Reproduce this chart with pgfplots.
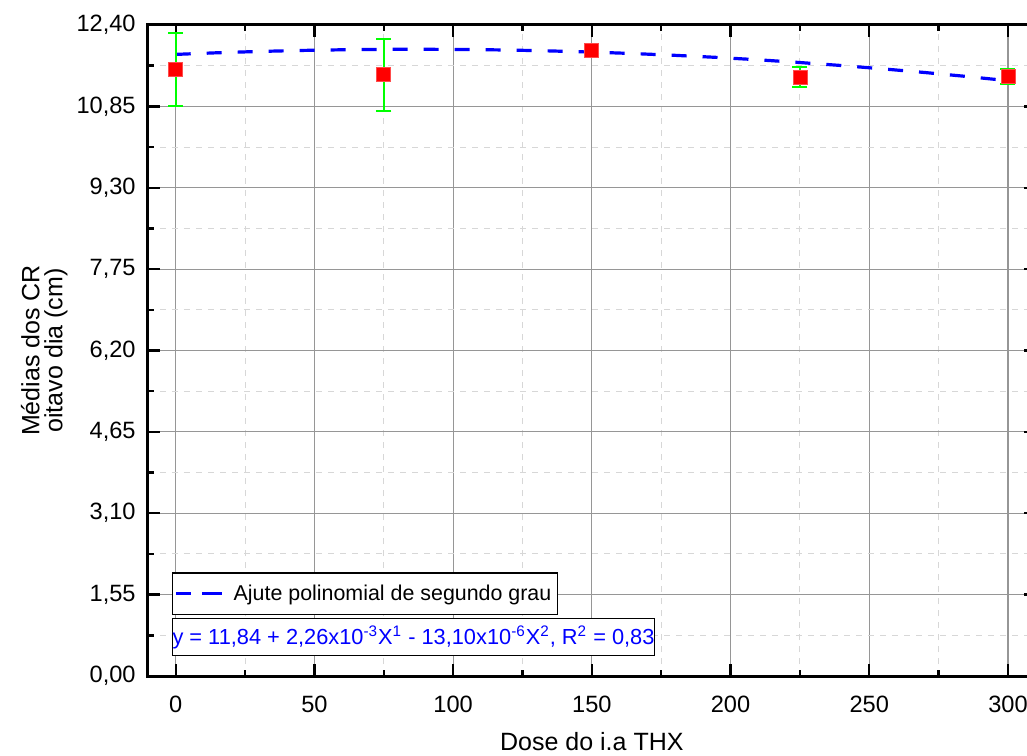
\documentclass[border=0pt]{standalone}
\usepackage{fontspec}
\setmainfont{Liberation Sans}
\usepackage{pgfplots}
\pgfplotsset{compat=1.18}
\usepackage{pgfplotstable}

\definecolor{ptred}{RGB}{255,0,0}
\definecolor{barGreen}{RGB}{0,255,0}
\definecolor{fitBlue}{RGB}{0,0,255}
\definecolor{gridMajor}{RGB}{150,150,150}
\definecolor{gridMinor}{RGB}{215,215,215}

% dose, mean, standard error
\pgfplotstableread{
x y err
0 11.55 0.70
75 11.45 0.68
150 11.92 0.05
225 11.41 0.19
300 11.42 0.14
}\meansdata

% second-degree fit: y = 11.84 + 2.26e-3 x - 13.10e-6 x^2
\pgfplotstableread{
x y
0 11.840
15 11.871
30 11.896
45 11.915
60 11.928
75 11.936
90 11.937
105 11.933
120 11.923
135 11.906
150 11.884
165 11.856
180 11.822
195 11.783
210 11.737
225 11.685
240 11.628
255 11.564
270 11.495
285 11.420
300 11.339
}\fitdata

\begin{document}
\begin{tikzpicture}
\begin{axis}[
  name=ax,
  scale only axis,
  width=443.85pt, height=325.5pt,
  xmin=-10, xmax=310,
  ymin=0, ymax=12.40,
  xtick={0,50,100,150,200,250,300},
  minor x tick num=1,
  ytick={0,1.55,3.10,4.65,6.20,7.75,9.30,10.85,12.40},
  minor y tick num=1,
  tick align=inside,
  major tick length=6pt,
  minor tick length=3pt,
  every tick/.style={black, line width=1.2pt},
  axis line style={black, line width=1.5pt},
  grid=both,
  major grid style={gridMajor, line width=0.6pt},
  minor grid style={gridMinor, dashed, line width=0.5pt},
  /pgf/number format/assume math mode=true,
  yticklabel style={/pgf/number format/.cd, fixed, fixed zerofill, precision=2, use comma},
  xticklabel style={/pgf/number format/.cd, fixed, precision=0},
  tick label style={font=\fontsize{11.8}{13}\selectfont, inner sep=0pt},
  xticklabel shift=10pt,
  yticklabel shift=6pt,
  xlabel={Dose do i.a THX},
  xlabel style={font=\fontsize{12.5}{14}\selectfont, inner sep=0pt, at={(axis description cs:0.5,-0.1)}, anchor=center},
  ylabel={Médias dos CR\\oitavo dia (cm)},
  ylabel style={font=\fontsize{12.5}{11.5}\selectfont, align=center, inner sep=0pt, at={(axis description cs:-0.117,0.5)}, anchor=center},
  legend style={at={(0.0267,0.1593)}, anchor=north west, draw=black, line width=0.8pt,
    font=\fontsize{10.7}{13}\selectfont, inner xsep=1pt, inner ysep=3.7pt, fill=white},
  legend cell align=left,
  legend image code/.code={%
    \draw[#1, line width=1.6pt, solid] (0pt,0pt) -- (4.5pt,0pt);
    \draw[#1, line width=1.6pt, solid] (13pt,0pt) -- (19.5pt,0pt);
    \path (0pt,0pt) -- (26pt,0pt);},
  clip mode=individual,
]
\addplot[fitBlue, line width=1.6pt, dash pattern=on 7.5pt off 8pt, no marks] table[x=x, y=y] {\fitdata};
\addlegendentry{Ajute polinomial de segundo grau}

\addplot[only marks, mark=square*, mark size=3.5pt, mark options={ptred, draw=ptred!70!white, line width=0.4pt},
  error bars/.cd, y dir=both, y explicit,
  error bar style={barGreen, line width=1pt},
  error mark options={barGreen, rotate=90, mark size=3.75pt, line width=1pt}]
  table[x=x, y=y, y error=err] {\meansdata};

\node[draw=black, line width=0.8pt, fill=white, inner xsep=0pt, inner ysep=3.5pt, anchor=north west,
  font=\fontsize{10.9}{13}\selectfont, text=fitBlue]
  at (rel axis cs:0.0267,0.0896)
  {y = 11,84 + 2,26x10\textsuperscript{-3}X\textsuperscript{1} - 13,10x10\textsuperscript{-6}X\textsuperscript{2}, R\textsuperscript{2} = 0,83};
\end{axis}
\pgfresetboundingbox
\path[use as bounding box] ([shift={(-74pt,-39.5pt)}]ax.south west) rectangle ([shift={(439.5pt,338pt)}]ax.south west);
\end{tikzpicture}
\end{document}
